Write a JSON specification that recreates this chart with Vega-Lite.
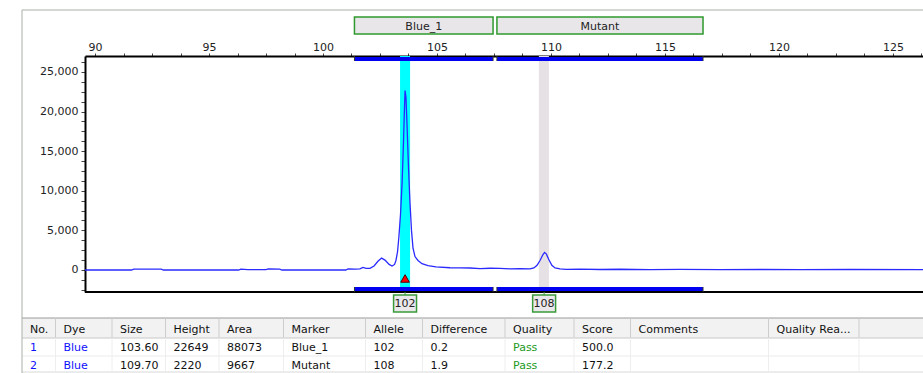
{
  "$schema": "https://vega.github.io/schema/vega-lite/v6.json",
  "autosize": "none",
  "width": 838,
  "height": 236,
  "padding": {"left": 85, "top": 56, "right": 0, "bottom": 81},
  "background": "#ffffff",
  "config": {"view": {"stroke": null}, "text": {"font": "DejaVu Sans", "fontSize": 11}},
  "datasets": {
    "trace": [
      {"s": 89.56, "rfu": 0}, {"s": 91.6, "rfu": 0}, {"s": 91.7, "rfu": 120}, {"s": 92.9, "rfu": 110}, {"s": 93.0, "rfu": 0},
      {"s": 96.3, "rfu": 0}, {"s": 96.4, "rfu": 110}, {"s": 96.7, "rfu": 40}, {"s": 97.5, "rfu": 40}, {"s": 97.6, "rfu": 130},
      {"s": 98.1, "rfu": 120}, {"s": 98.2, "rfu": 0}, {"s": 101.0, "rfu": 0}, {"s": 101.1, "rfu": 130}, {"s": 101.4, "rfu": 110},
      {"s": 101.62, "rfu": 150}, {"s": 101.75, "rfu": 330}, {"s": 101.89, "rfu": 200}, {"s": 102.06, "rfu": 200}, {"s": 102.24, "rfu": 500},
      {"s": 102.41, "rfu": 1100}, {"s": 102.57, "rfu": 1500}, {"s": 102.72, "rfu": 1250}, {"s": 102.9, "rfu": 700}, {"s": 103.03, "rfu": 500},
      {"s": 103.14, "rfu": 700}, {"s": 103.2, "rfu": 1200}, {"s": 103.27, "rfu": 2300}, {"s": 103.33, "rfu": 4200}, {"s": 103.4, "rfu": 7000},
      {"s": 103.47, "rfu": 11000}, {"s": 103.53, "rfu": 16000}, {"s": 103.575, "rfu": 20500}, {"s": 103.6, "rfu": 22649}, {"s": 103.64, "rfu": 21800},
      {"s": 103.684, "rfu": 18500}, {"s": 103.75, "rfu": 13000}, {"s": 103.816, "rfu": 8500}, {"s": 103.882, "rfu": 5000}, {"s": 103.947, "rfu": 2800},
      {"s": 104.035, "rfu": 1700}, {"s": 104.167, "rfu": 1200}, {"s": 104.342, "rfu": 800}, {"s": 104.605, "rfu": 550}, {"s": 104.956, "rfu": 400},
      {"s": 105.57, "rfu": 280}, {"s": 106.01, "rfu": 260}, {"s": 106.45, "rfu": 250}, {"s": 106.89, "rfu": 180}, {"s": 107.33, "rfu": 220},
      {"s": 107.76, "rfu": 200}, {"s": 108.2, "rfu": 150}, {"s": 108.64, "rfu": 170}, {"s": 109.08, "rfu": 130}, {"s": 109.25, "rfu": 250},
      {"s": 109.39, "rfu": 600}, {"s": 109.52, "rfu": 1200}, {"s": 109.65, "rfu": 1950}, {"s": 109.72, "rfu": 2220}, {"s": 109.8, "rfu": 2000},
      {"s": 109.91, "rfu": 1300}, {"s": 110.04, "rfu": 600}, {"s": 110.18, "rfu": 250}, {"s": 110.4, "rfu": 130}, {"s": 110.66, "rfu": 80},
      {"s": 111.27, "rfu": 100}, {"s": 112.15, "rfu": 60}, {"s": 113.03, "rfu": 90}, {"s": 114.34, "rfu": 50}, {"s": 115.66, "rfu": 70},
      {"s": 117.41, "rfu": 40}, {"s": 119.17, "rfu": 60}, {"s": 120.92, "rfu": 40}, {"s": 123.11, "rfu": 60}, {"s": 126.32, "rfu": 40}
    ],
    "peaks": [
      {"no": 1, "size": 103.6, "height": 22649, "marker": "Blue_1", "allele": "102", "lo": 103.38, "hi": 103.82},
      {"no": 2, "size": 109.7, "height": 2220, "marker": "Mutant", "allele": "108", "lo": 109.47, "hi": 109.91}
    ],
    "bins": [
      {"marker": "Blue_1", "start": 101.38, "end": 107.46},
      {"marker": "Mutant", "start": 107.63, "end": 116.67}
    ],
    "cells": [
      {"r": 0, "c": 0, "t": "No."}, {"r": 0, "c": 1, "t": "Dye"}, {"r": 0, "c": 2, "t": "Size"}, {"r": 0, "c": 3, "t": "Height"},
      {"r": 0, "c": 4, "t": "Area"}, {"r": 0, "c": 5, "t": "Marker"}, {"r": 0, "c": 6, "t": "Allele"}, {"r": 0, "c": 7, "t": "Difference"},
      {"r": 0, "c": 8, "t": "Quality"}, {"r": 0, "c": 9, "t": "Score"}, {"r": 0, "c": 10, "t": "Comments"}, {"r": 0, "c": 11, "t": "Quality Rea..."},
      {"r": 0, "c": 12, "t": ""},
      {"r": 1, "c": 0, "t": "1"}, {"r": 1, "c": 1, "t": "Blue"}, {"r": 1, "c": 2, "t": "103.60"}, {"r": 1, "c": 3, "t": "22649"},
      {"r": 1, "c": 4, "t": "88073"}, {"r": 1, "c": 5, "t": "Blue_1"}, {"r": 1, "c": 6, "t": "102"}, {"r": 1, "c": 7, "t": "0.2"},
      {"r": 1, "c": 8, "t": "Pass"}, {"r": 1, "c": 9, "t": "500.0"},
      {"r": 2, "c": 0, "t": "2"}, {"r": 2, "c": 1, "t": "Blue"}, {"r": 2, "c": 2, "t": "109.70"}, {"r": 2, "c": 3, "t": "2220"},
      {"r": 2, "c": 4, "t": "9667"}, {"r": 2, "c": 5, "t": "Mutant"}, {"r": 2, "c": 6, "t": "108"}, {"r": 2, "c": 7, "t": "1.9"},
      {"r": 2, "c": 8, "t": "Pass"}, {"r": 2, "c": 9, "t": "177.2"}
    ]
  },
  "layer": [
    {
      "layer": [
        {
          "data": {"name": "peaks"},
          "mark": {"type": "rect"},
          "encoding": {
            "x": {"field": "lo", "type": "quantitative", "scale": {"domain": [89.56, 126.32], "nice": false, "zero": false}},
            "x2": {"field": "hi"},
            "color": {"field": "marker", "type": "nominal", "scale": {"domain": ["Blue_1", "Mutant"], "range": ["#00ffff", "#e5e1e5"]}, "legend": null}
          }
        },
        {
          "data": {"name": "peaks"},
          "transform": [{"filter": "datum.no == 1"}],
          "mark": {"type": "rule", "color": "#000000", "strokeWidth": 2},
          "encoding": {"x": {"datum": 89.56}, "x2": {"datum": 126.32}, "y": {"datum": -2780}}
        },
        {
          "data": {"name": "trace"},
          "mark": {"type": "line", "color": "#2a2aff", "strokeWidth": 1.3},
          "encoding": {
            "x": {
              "field": "s", "type": "quantitative",
              "scale": {"domain": [89.56, 126.32], "nice": false, "zero": false},
              "axis": {
                "orient": "top", "title": null, "grid": false, "tickCount": 500,
                "values": [90, 91.25, 92.5, 93.75, 95, 96.25, 97.5, 98.75, 100, 101.25, 102.5, 103.75, 105, 106.25, 107.5, 108.75, 110, 111.25, 112.5, 113.75, 115, 116.25, 117.5, 118.75, 120, 121.25, 122.5, 123.75, 125, 126.25],
                "labelExpr": "datum.value % 5 === 0 ? format(datum.value, 'd') : ''",
                "domainColor": "#000000", "domainWidth": 2, "tickColor": "#444444", "tickSize": 3, "tickWidth": 1,
                "labelFont": "DejaVu Sans", "labelFontSize": 11, "labelColor": "#222222", "labelPadding": 1,
                "labelFlush": false, "labelOverlap": false
              }
            },
            "y": {
              "field": "rfu", "type": "quantitative",
              "scale": {"domain": [-2780, 27020], "nice": false, "zero": false},
              "axis": {
                "orient": "left", "title": null, "grid": false, "tickCount": 500,
                "values": [-2500, -1250, 0, 1250, 2500, 3750, 5000, 6250, 7500, 8750, 10000, 11250, 12500, 13750, 15000, 16250, 17500, 18750, 20000, 21250, 22500, 23750, 25000, 26250],
                "labelExpr": "datum.value % 5000 === 0 ? format(datum.value, ',') : ''",
                "domainColor": "#000000", "domainWidth": 2, "tickColor": "#444444", "tickSize": 4, "tickWidth": 1,
                "labelFont": "DejaVu Sans", "labelFontSize": 11, "labelColor": "#222222", "labelPadding": 3,
                "labelFlush": false, "labelOverlap": false
              }
            }
          }
        },
        {
          "data": {"name": "bins"},
          "mark": {"type": "rect", "color": "#0000f0"},
          "encoding": {"x": {"field": "start", "type": "quantitative"}, "x2": {"field": "end"}, "y": {"datum": 26894}, "y2": {"datum": 26389}}
        },
        {
          "data": {"name": "bins"},
          "mark": {"type": "rect", "color": "#0000f0"},
          "encoding": {"x": {"field": "start", "type": "quantitative"}, "x2": {"field": "end"}, "y": {"datum": -2147}, "y2": {"datum": -2652}}
        },
        {
          "data": {"name": "bins"},
          "transform": [{"fold": ["start", "end"], "as": ["edge", "pos"]}],
          "mark": {"type": "rule", "color": "#333333", "strokeWidth": 1},
          "encoding": {"x": {"field": "pos", "type": "quantitative"}, "y": {"datum": 27020}, "y2": {"datum": 26389}}
        },
        {
          "data": {"name": "bins"},
          "transform": [{"fold": ["start", "end"], "as": ["edge", "pos"]}],
          "mark": {"type": "rule", "color": "#333333", "strokeWidth": 1},
          "encoding": {"x": {"field": "pos", "type": "quantitative"}, "y": {"datum": -2147}, "y2": {"datum": -2780}}
        },
        {
          "data": {"name": "bins"},
          "mark": {"type": "rect", "fill": "#e9e6ea", "stroke": "#2e9a2e", "strokeWidth": 1.5, "clip": false},
          "encoding": {"x": {"field": "start", "type": "quantitative"}, "x2": {"field": "end"}, "y": {"datum": 31944}, "y2": {"datum": 29798}}
        },
        {
          "data": {"name": "bins"},
          "transform": [
            {"fold": ["start", "end"], "as": ["edge", "pos"]},
            {"aggregate": [{"op": "mean", "field": "pos", "as": "mid"}], "groupby": ["marker"]}
          ],
          "mark": {"type": "text", "font": "DejaVu Sans", "fontSize": 11, "color": "#222222", "baseline": "middle", "clip": false},
          "encoding": {"x": {"field": "mid", "type": "quantitative"}, "y": {"datum": 30720}, "text": {"field": "marker", "type": "nominal"}}
        },
        {
          "data": {"name": "peaks"},
          "transform": [{"filter": "datum.no == 1"}],
          "mark": {"type": "point", "shape": "triangle-up", "filled": true, "fill": "#ff0000", "stroke": "#500000", "strokeWidth": 1, "opacity": 1, "size": 75},
          "encoding": {"x": {"field": "size", "type": "quantitative"}, "y": {"datum": -1073}}
        },
        {
          "data": {"name": "peaks"},
          "mark": {"type": "rule", "color": "#3a9a3a", "strokeWidth": 1, "clip": false},
          "encoding": {"x": {"field": "size", "type": "quantitative"}, "y": {"datum": -2780}, "y2": {"datum": -3157}}
        },
        {
          "data": {"name": "peaks"},
          "mark": {"type": "point", "shape": "M-1.35,-1L1.35,-1L1.35,1L-1.35,1Z", "filled": true, "fill": "#ebe8eb", "stroke": "#3a9a3a", "strokeWidth": 1.5, "opacity": 1, "size": 289, "clip": false},
          "encoding": {"x": {"field": "size", "type": "quantitative"}, "y": {"datum": -4230}}
        },
        {
          "data": {"name": "peaks"},
          "mark": {"type": "text", "font": "DejaVu Sans", "fontSize": 11, "color": "#222222", "baseline": "middle", "clip": false},
          "encoding": {"x": {"field": "size", "type": "quantitative"}, "y": {"datum": -4330}, "text": {"field": "allele", "type": "nominal"}}
        }
      ]
    },
    {
      "layer": [
        {
          "data": {"name": "cells"},
          "transform": [{"filter": "datum.r == 0 && datum.c == 0"}],
          "mark": {"type": "rect", "fill": "#f2f2f2", "clip": false},
          "encoding": {
            "x": {"datum": 0, "axis": null, "scale": {"domain": [0, 1, 2, 3, 4, 5, 6, 7, 8, 9, 10, 11, 12, 13], "range": [-63, -29.5, 27, 80.5, 134, 198.5, 280.5, 337.5, 420, 489, 545.5, 683.5, 774, 838], "nice": false, "zero": false}},
            "x2": {"datum": 13},
            "y": {"datum": -0.5, "axis": null, "scale": {"domain": [-1, -0.5, 0, 0.5, 1, 1.5, 2, 2.5, 3], "range": [-46, 262, 274, 282, 292, 300, 309.5, 316, 317], "nice": false, "zero": false}},
            "y2": {"datum": 0.5}
          }
        },
        {
          "data": {"name": "cells"},
          "transform": [{"filter": "datum.r == 0 && datum.c == 0"}],
          "mark": {"type": "rule", "color": "#9a9a9a", "strokeWidth": 1, "clip": false},
          "encoding": {"x": {"datum": 0, "axis": null}, "x2": {"datum": 13}, "y": {"datum": -0.5, "axis": null}}
        },
        {
          "data": {"name": "cells"},
          "transform": [{"filter": "datum.r == 0 && datum.c == 0"}],
          "mark": {"type": "rule", "color": "#c8c8c8", "strokeWidth": 1, "clip": false},
          "encoding": {"x": {"datum": 0, "axis": null}, "x2": {"datum": 13}, "y": {"datum": 0.5, "axis": null}}
        },
        {
          "data": {"name": "cells"},
          "transform": [{"filter": "datum.r == 0 && datum.c == 0"}],
          "mark": {"type": "rule", "color": "#ebebeb", "strokeWidth": 1, "clip": false},
          "encoding": {"x": {"datum": 0, "axis": null}, "x2": {"datum": 13}, "y": {"datum": 1.5, "axis": null}}
        },
        {
          "data": {"name": "cells"},
          "transform": [{"filter": "datum.r == 0 && datum.c == 0"}],
          "mark": {"type": "rule", "color": "#d8d8d8", "strokeWidth": 1, "clip": false},
          "encoding": {"x": {"datum": 0, "axis": null}, "x2": {"datum": 13}, "y": {"datum": 2.5, "axis": null}}
        },
        {
          "data": {"name": "cells"},
          "transform": [{"filter": "datum.r == 0 && datum.c > 0"}],
          "mark": {"type": "rule", "color": "#cdcdcd", "strokeWidth": 1, "clip": false},
          "encoding": {"x": {"field": "c", "type": "quantitative", "axis": null}, "y": {"datum": -0.5, "axis": null}, "y2": {"datum": 0.5}}
        },
        {
          "data": {"name": "cells"},
          "transform": [{"filter": "datum.r == 0 && datum.c > 0"}],
          "mark": {"type": "rule", "color": "#eeeeee", "strokeWidth": 1, "clip": false},
          "encoding": {"x": {"field": "c", "type": "quantitative", "axis": null}, "y": {"datum": 0.5, "axis": null}, "y2": {"datum": 2.5}}
        },
        {
          "data": {"name": "cells"},
          "transform": [{"filter": "datum.r == 0 && datum.c == 0"}],
          "mark": {"type": "rule", "color": "#a9b1a9", "strokeWidth": 1, "clip": false},
          "encoding": {"x": {"datum": 0, "axis": null}, "x2": {"datum": 13}, "y": {"datum": -1, "axis": null}}
        },
        {
          "data": {"name": "cells"},
          "transform": [{"filter": "datum.r == 0 && datum.c == 0"}],
          "mark": {"type": "rule", "color": "#a9b1a9", "strokeWidth": 1, "clip": false},
          "encoding": {"x": {"datum": 0, "axis": null}, "y": {"datum": -1, "axis": null}, "y2": {"datum": 3}}
        },
        {
          "data": {"name": "cells"},
          "mark": {"type": "text", "align": "left", "baseline": "middle", "dx": 8, "font": "DejaVu Sans", "fontSize": 11, "clip": false},
          "encoding": {
            "x": {"field": "c", "type": "quantitative", "axis": null},
            "y": {"field": "r", "type": "quantitative", "axis": null},
            "text": {"field": "t", "type": "nominal"},
            "color": {
              "condition": [
                {"test": "datum.r > 0 && datum.c <= 1", "value": "#1010ff"},
                {"test": "datum.r > 0 && datum.c == 8", "value": "#239a23"}
              ],
              "value": "#111111"
            }
          }
        }
      ]
    }
  ],
  "resolve": {"scale": {"x": "independent", "y": "independent"}}
}
